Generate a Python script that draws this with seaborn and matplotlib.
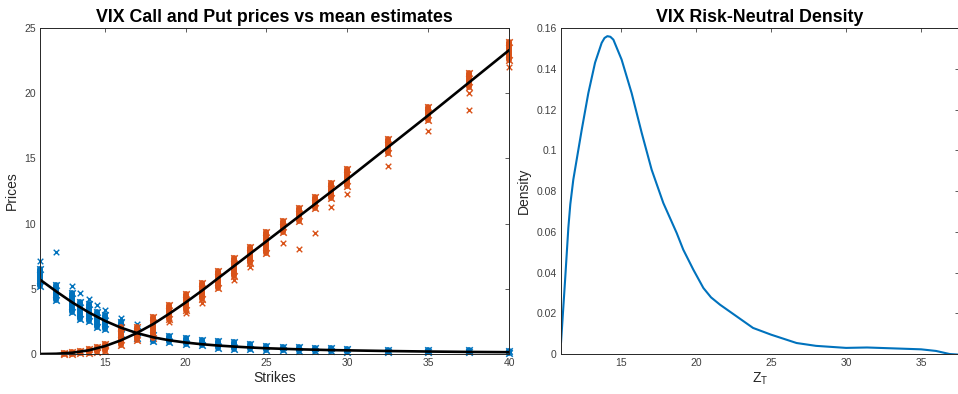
import numpy as np
import pandas as pd
import seaborn as sns
import matplotlib
matplotlib.use("Agg")
import matplotlib.pyplot as plt

# -------------------------
# Data
# -------------------------
call_strikes = [11, 12, 13, 13.5, 14, 14.5, 15, 16, 17, 18, 19, 20, 21, 22, 23, 24, 25,
                26, 27, 28, 29, 30, 32.5, 35, 37.5, 40]
call_low = [5.2, 4.15, 3.25, 2.65, 2.5, 2.05, 1.88, 1.5, 1.25, 0.98, 0.9, 0.75, 0.7, 0.45,
            0.42, 0.35, 0.27, 0.27, 0.2, 0.2, 0.2, 0.15, 0.15, 0.15, 0.14, 0.1]
call_high = [6.55, 5.3, 4.65, 4.0, 3.8, 3.2, 3.0, 2.42, 1.8, 1.42, 1.35, 1.2, 1.1, 1.0,
             0.9, 0.78, 0.6, 0.56, 0.55, 0.48, 0.47, 0.4, 0.32, 0.3, 0.28, 0.26]
call_out_k = [11, 12, 13, 13.5, 14, 14.5, 15, 16, 17]
call_out_v = [7.1, 7.8, 5.2, 4.7, 4.23, 3.77, 3.39, 2.76, 2.3]

put_strikes = [12.5, 13, 13.5, 14, 14.5, 15, 16, 17, 18, 19, 20, 21, 22, 23, 24, 25,
               26, 27, 28, 29, 30, 32.5, 35, 37.5, 40]
put_low = [0.02, 0.03, 0.05, 0.1, 0.15, 0.22, 0.7, 1.1, 1.25, 2.7, 3.4, 4.2, 5.05, 6.0,
           7.0, 7.75, 9.35, 10.2, 11.2, 11.95, 12.85, 15.4, 17.95, 20.45, 22.55]
put_high = [0.08, 0.12, 0.22, 0.38, 0.52, 0.78, 2.1, 2.1, 2.85, 3.75, 4.6, 5.45, 6.35,
            7.35, 8.2, 9.35, 10.2, 11.2, 12.05, 13.15, 14.15, 16.5, 18.95, 21.55, 23.95]
put_out_k = [19, 20, 21, 23, 24, 26, 27, 28, 29, 30, 32.5, 35, 37.5, 37.5, 40]
put_out_v = [2.42, 3.15, 3.95, 5.7, 6.66, 8.5, 8.06, 9.31, 11.3, 12.27, 14.42, 17.12,
             19.98, 18.71, 22.02]

curve_k = [11, 12, 13, 14, 15, 16, 17, 18, 19, 20, 21, 22, 23, 24, 25, 26, 27, 28, 29,
           30, 32.5, 35, 37.5, 40]
call_mean = [5.7, 4.8, 3.95, 3.2, 2.55, 2.02, 1.6, 1.28, 1.05, 0.88, 0.75, 0.65, 0.57,
             0.5, 0.44, 0.4, 0.36, 0.33, 0.3, 0.28, 0.23, 0.19, 0.16, 0.14]
put_mean = [0.0, 0.02, 0.1, 0.28, 0.6, 1.05, 1.62, 2.3, 3.1, 3.95, 4.85, 5.8, 6.75, 7.7,
            8.65, 9.6, 10.55, 11.5, 12.45, 13.4, 15.85, 18.3, 20.8, 23.3]

dens_z = [11.0, 11.27, 11.49, 11.62, 11.82, 12.38, 12.82, 13.27, 13.71, 13.9, 14.09,
          14.29, 14.49, 15.04, 15.71, 16.38, 17.04, 17.82, 18.71, 19.15, 19.82, 20.49,
          21.0, 21.6, 22.7, 23.8, 25.0, 26.7, 28.0, 30.0, 31.4, 33.0, 35.0, 36.0, 36.9, 37.5]
dens_y = [0.0055, 0.036, 0.062, 0.0735, 0.0856, 0.110, 0.128, 0.143, 0.1527, 0.1551,
          0.156, 0.1557, 0.1543, 0.1445, 0.128, 0.1085, 0.0905, 0.0741, 0.0594, 0.0512,
          0.0414, 0.0324, 0.0278, 0.0242, 0.0185, 0.0128, 0.0095, 0.0054, 0.004, 0.003,
          0.0032, 0.0028, 0.0023, 0.0015, 0.0, -0.0003]

BLUE = "#0072BD"
ORANGE = "#D95319"

sns.set_style("white")
plt.rcParams["font.family"] = ["Liberation Sans", "DejaVu Sans"]


def long_form(strikes, low, high):
    return pd.DataFrame({
        "strike": list(strikes) * 2,
        "price": list(low) + list(high),
    })


calls = long_form(call_strikes, call_low, call_high)
puts = long_form(put_strikes, put_low, put_high)
curves = pd.DataFrame({"strike": curve_k, "call": call_mean, "put": put_mean})

fig = plt.figure(figsize=(9.58, 3.94), dpi=100)
ax1 = fig.add_axes([0.0418, 0.1015, 0.4896, 0.8274])
ax2 = fig.add_axes([0.5856, 0.1015, 0.415, 0.8274])

# -------------------------
# Left: prices vs mean estimates
# -------------------------
for df, col in [(calls, BLUE), (puts, ORANGE)]:
    sns.lineplot(data=df, x="strike", y="price", units="strike", estimator=None,
                 color=col, lw=4.3, sort=False, ax=ax1, legend=False, clip_on=False)
    sns.scatterplot(data=df, x="strike", y="price", marker="x", color=col, s=22,
                    linewidth=1.1, ax=ax1, legend=False, clip_on=False)

sns.scatterplot(x=call_out_k, y=call_out_v, marker="x", color=BLUE, s=16,
                linewidth=1.0, ax=ax1, legend=False, clip_on=False)
sns.scatterplot(x=put_out_k, y=put_out_v, marker="x", color=ORANGE, s=16,
                linewidth=1.0, ax=ax1, legend=False, clip_on=False)

sns.lineplot(data=curves, x="strike", y="call", color="black", lw=1.9, ax=ax1)
sns.lineplot(data=curves, x="strike", y="put", color="black", lw=1.9, ax=ax1)

ax1.set_xlim(11, 40)
ax1.set_ylim(0, 25)
ax1.set_xticks([15, 20, 25, 30, 35, 40])
ax1.set_yticks([0, 5, 10, 15, 20, 25])
ax1.set_title("VIX Call and Put prices vs mean estimates", fontsize=12.8,
              fontweight="bold", color="black", pad=4)
ax1.set_xlabel("Strikes", fontsize=10, color="#262626", labelpad=2)
ax1.set_ylabel("Prices", fontsize=10, color="#262626", labelpad=4)

# -------------------------
# Right: risk-neutral density
# -------------------------
sns.lineplot(x=dens_z, y=dens_y, color=BLUE, lw=1.5, ax=ax2)
ax2.set_xlim(11, 37.5)
ax2.set_ylim(0, 0.16)
ax2.set_xticks([15, 20, 25, 30, 35])
ax2.set_yticks(np.arange(0, 0.161, 0.02))
ax2.set_yticklabels(["0", "0.02", "0.04", "0.06", "0.08", "0.1", "0.12", "0.14", "0.16"])
ax2.set_title("VIX Risk-Neutral Density", fontsize=12.8, fontweight="bold",
              color="black", pad=4)
ax2.set_xlabel(r"Z$_\mathregular{T}$", fontsize=10, color="#262626", labelpad=2)
ax2.set_ylabel("Density", fontsize=10, color="#262626", labelpad=4)

for ax in (ax1, ax2):
    ax.tick_params(direction="in", top=True, right=True, length=3, width=0.6,
                   labelsize=7.5, colors="#404040", pad=3)
    for sp in ax.spines.values():
        sp.set_color("#262626")
        sp.set_linewidth(0.7)

fig.savefig("out.png", dpi=100)
